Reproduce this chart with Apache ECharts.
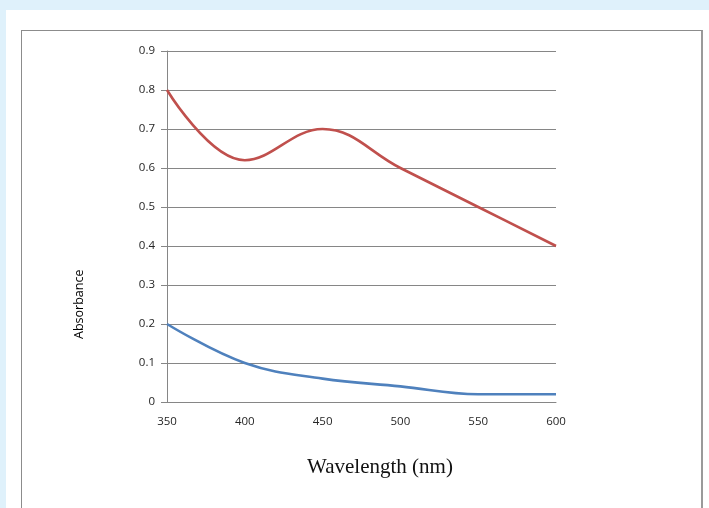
<!DOCTYPE html>
<html>
<head>
<meta charset="utf-8">
<script src="https://cdn.jsdelivr.net/npm/echarts@6/dist/echarts.min.js"></script>
<style>
  html, body { margin: 0; padding: 0; }
  body { width: 709px; height: 508px; background: #dff1fb; position: relative; overflow: hidden; }
  #page { position: absolute; left: 6px; top: 10px; right: 0; bottom: 0; background: #fff; }
  #frame { position: absolute; left: 21px; top: 30px; width: 682px; height: 490px;
           border: 1px solid #8c8c8c; border-right: 2px solid #9a9a9a; box-sizing: border-box; }
  #chart { position: absolute; left: 0; top: 0; width: 709px; height: 508px; }
</style>
</head>
<body>
<div id="page"></div>
<div id="frame"></div>
<div id="chart"></div>
<script>
  // wavelengths (nm) and absorbance
  const wavelength = [350, 400, 450, 500, 550, 600];
  const redAbs = [0.8, 0.62, 0.7, 0.6, 0.5, 0.4];
  const blueAbs = [0.2, 0.1, 0.06, 0.04, 0.02, 0.02];

  const pairs = (ys) => wavelength.map((x, i) => [x, ys[i]]);

  const chart = echarts.init(document.getElementById("chart"));
  const grey = "#868686";
  const labelFont = { color: "#262626", fontSize: 11.5, fontFamily: "Open Sans" };

  chart.setOption({
    backgroundColor: "transparent",
    animation: false,
    grid: { left: 167, right: 153, top: 51, bottom: 106 },
    xAxis: {
      type: "value",
      min: 350,
      max: 600,
      interval: 50,
      axisLine: { show: true, onZero: false, lineStyle: { color: grey } },
      axisTick: { show: false },
      splitLine: { show: false },
      axisLabel: { ...labelFont, margin: 14 }
    },
    yAxis: {
      type: "value",
      min: 0,
      max: 0.9,
      interval: 0.1,
      axisLine: { show: true, lineStyle: { color: grey } },
      axisTick: { show: true, length: 6, lineStyle: { color: grey } },
      splitLine: { show: true, lineStyle: { color: grey, width: 1 } },
      axisLabel: { ...labelFont, margin: 12, formatter: (v) => (v === 0 ? "0" : v.toFixed(1)) }
    },
    graphic: [
      {
        // y axis title, reading upwards
        type: "text",
        x: 73,
        y: 339,
        rotation: Math.PI / 2,
        style: { text: "Absorbance", fill: "#000", fontSize: 12.5, fontFamily: "Open Sans" }
      },
      {
        type: "text",
        x: 380,
        y: 467,
        style: {
          text: "Wavelength (nm)",
          fill: "#111",
          fontSize: 21,
          fontFamily: "Liberation Serif",
          align: "center",
          verticalAlign: "middle"
        }
      }
    ],
    series: [
      {
        type: "line",
        data: pairs(redAbs),
        smooth: 0.4,
        showSymbol: false,
        lineStyle: { color: "#c0504d", width: 2.6 }
      },
      {
        type: "line",
        data: pairs(blueAbs),
        smooth: 0.4,
        showSymbol: false,
        lineStyle: { color: "#4f81bd", width: 2.6 }
      }
    ]
  });
</script>
</body>
</html>
